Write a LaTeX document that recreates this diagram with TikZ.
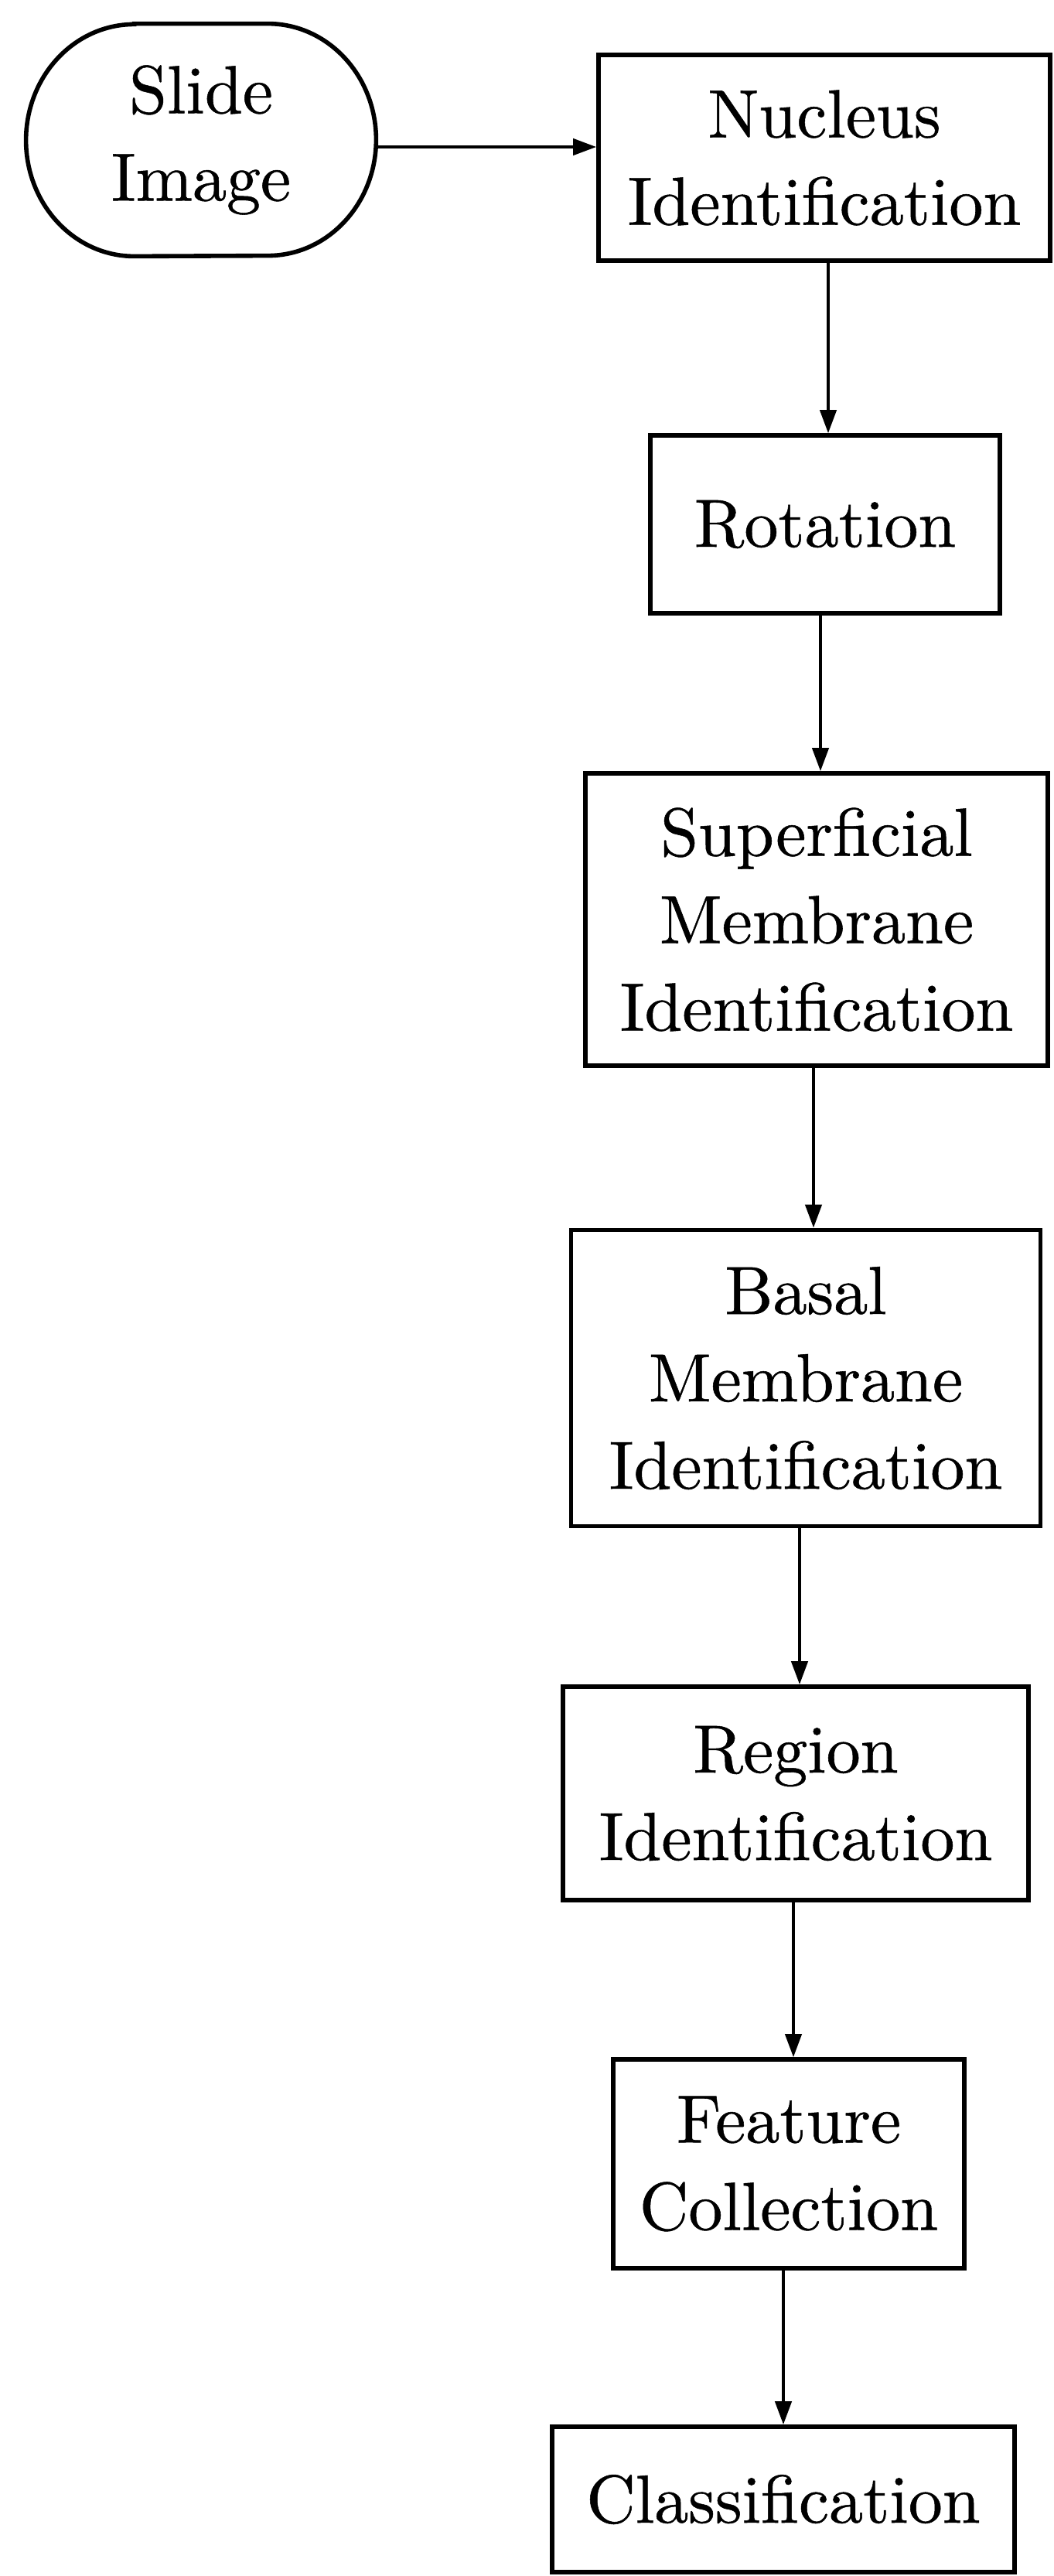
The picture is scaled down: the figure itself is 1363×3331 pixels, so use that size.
\documentclass[tikz,border=0pt]{standalone}
\usepackage{fontspec}
\newfontfamily\boxfont{lmroman10-regular.otf}[FakeBold=0.6]
\usetikzlibrary{arrows.meta}
\begin{document}
\begin{tikzpicture}[x=0.5pt,y=-0.5pt,
  txt/.style={rectangle, inner sep=0pt, align=center,
    font=\boxfont\fontsize{44}{56.5}\selectfont},
  box/.style={txt, draw, line width=2.8pt},
  edge/.style={line width=2.8pt},
  arr/.style={line width=2.1pt, -{Triangle[length=15pt,width=10.5pt]}}]
\useasboundingbox (0,0) rectangle (1363,3331);
\node[txt, minimum width=226pt, minimum height=150pt] (slide) at (260,181) {Slide\\Image};
\draw[edge] ([xshift=70pt]slide.north west) -- ([xshift=-70pt]slide.north east)
  arc[start angle=90, end angle=0, x radius=70pt, y radius=75pt]
  arc[start angle=0, end angle=-90, x radius=70pt, y radius=75pt]
  -- ([xshift=70pt]slide.south west)
  arc[start angle=-90, end angle=-180, x radius=70pt, y radius=75pt]
  arc[start angle=180, end angle=90, x radius=70pt, y radius=75pt] -- cycle;
\node[box, minimum width=292pt, minimum height=133pt] (nuc) at (1066,204) {Nucleus\\Identification};
\node[box, minimum width=226pt, minimum height=115pt] (rot) at (1067,678) {Rotation};
\node[box, minimum width=299pt, minimum height=189pt] (sup) at (1056,1189) {Superficial\\Membrane\\Identification};
\node[box, minimum width=303.5pt, minimum height=191.5pt] (bas) at (1042,1782) {Basal\\Membrane\\Identification};
\node[box, minimum width=301pt, minimum height=138pt] (reg) at (1029,2319) {Region\\Identification};
\node[box, minimum width=227pt, minimum height=135pt] (fea) at (1020,2798) {Feature\\Collection};
\node[box, minimum width=299pt, minimum height=94pt] (cla) at (1013,3232) {Classification};
\coordinate (a0) at (0,190);
\coordinate (a1) at (1071,0);
\coordinate (a2) at (1061,0);
\coordinate (a3) at (1052,0);
\coordinate (a4) at (1034,0);
\coordinate (a5) at (1026,0);
\coordinate (a6) at (1013,0);
\draw[arr] (slide.east |- a0) -- (nuc.west |- a0);
\draw[arr] (nuc.south -| a1) -- (rot.north -| a1);
\draw[arr] (rot.south -| a2) -- (sup.north -| a2);
\draw[arr] (sup.south -| a3) -- (bas.north -| a3);
\draw[arr] (bas.south -| a4) -- (reg.north -| a4);
\draw[arr] (reg.south -| a5) -- (fea.north -| a5);
\draw[arr] (fea.south -| a6) -- (cla.north -| a6);
\end{tikzpicture}
\end{document}
